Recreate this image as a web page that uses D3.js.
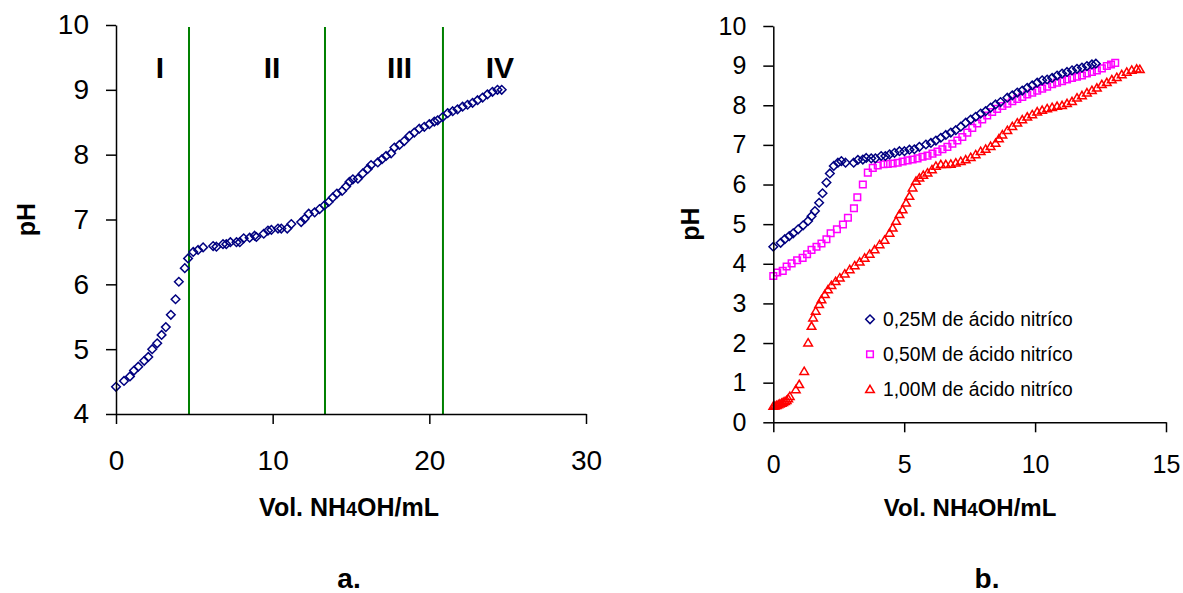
<!DOCTYPE html>
<meta charset="utf-8">
<style>
  body { margin: 0; background: #fff; }
  svg { font-family: "Liberation Sans", Arial, sans-serif; display: block; }
</style>
<svg width="1183" height="593"></svg>
<script src="https://d3js.org/d3.v7.min.js"></script>
<script>

// panel a: single titration
var volA = [0, 0.51, 0.89, 1.15, 1.42, 1.8, 2.06, 2.31, 2.63, 2.91, 3.18, 3.5, 3.8, 4.01, 4.39, 4.6, 4.93, 5.24, 5.56, 6.2,
  6.41, 6.83, 7.04, 7.3, 7.69, 7.9, 8.15, 8.53, 8.85, 8.96, 9.43, 9.7, 9.92, 10.34, 10.55, 10.93, 11.19, 11.82, 12.04, 12.3,
  12.68, 12.99, 13.31, 13.57, 13.84, 14.1, 14.43, 14.69, 14.9, 15.12, 15.44, 15.75, 16.07, 16.28, 16.71, 16.98, 17.24, 17.56,
  17.77, 18.09, 18.4, 18.73, 19.04, 19.36, 19.68, 20.0, 20.32, 20.53, 20.85, 21.17, 21.49, 21.8, 22.12, 22.44, 22.76, 23.08,
  23.4, 23.71, 24.03, 24.35, 24.62];
var phA = [4.42, 4.51, 4.58, 4.67, 4.73, 4.82, 4.88, 5.0, 5.09, 5.22, 5.34, 5.53, 5.77, 6.04, 6.25, 6.40, 6.50, 6.53, 6.57, 6.59,
  6.58, 6.62, 6.62, 6.65, 6.65, 6.65, 6.71, 6.72, 6.75, 6.73, 6.78, 6.83, 6.84, 6.86, 6.86, 6.86, 6.93, 6.96, 7.01, 7.09,
  7.11, 7.16, 7.22, 7.27, 7.34, 7.40, 7.44, 7.51, 7.58, 7.62, 7.63, 7.71, 7.78, 7.84, 7.88, 7.93, 7.98, 8.02,
  8.11, 8.15, 8.21, 8.29, 8.34, 8.40, 8.43, 8.47, 8.51, 8.53, 8.58, 8.64, 8.67, 8.70, 8.74, 8.77, 8.80, 8.84,
  8.88, 8.93, 8.97, 9.0, 9.0];
var regionBounds = [4.66, 13.34, 20.87];
var regionLabels = ["I", "II", "III", "IV"];
var regionLabelX = [2.8, 9.96, 18.1, 24.5];
var regionLabelPh = 9.34;
var xTicksA = [0, 10, 20, 30];
var yTicksA = [4, 5, 6, 7, 8, 9, 10];

// panel b: three acid concentrations
var vol025 = [0, 0.28, 0.44, 0.61, 0.76, 0.95, 1.14, 1.33, 1.46, 1.59, 1.75, 1.88, 2.03, 2.16, 2.31, 2.47, 2.6, 2.76, 3.07,
  3.23, 3.42, 3.55, 3.74, 3.9, 4.12, 4.28, 4.44, 4.63, 4.82, 5.01, 5.2, 5.39, 5.58, 5.83, 6.02, 6.21, 6.4, 6.59, 6.78, 6.97,
  7.16, 7.35, 7.54, 7.73, 7.92, 8.11, 8.3, 8.49, 8.68, 8.94, 9.13, 9.32, 9.51, 9.70, 9.89, 10.08, 10.27, 10.46, 10.65, 10.84,
  11.03, 11.22, 11.41, 11.6, 11.79, 11.98, 12.17, 12.32];
var ph025 = [4.43, 4.53, 4.62, 4.70, 4.77, 4.87, 4.97, 5.08, 5.20, 5.33, 5.54, 5.78, 6.05, 6.28, 6.47, 6.55, 6.59, 6.55, 6.55,
  6.62, 6.63, 6.67, 6.66, 6.66, 6.72, 6.72, 6.76, 6.80, 6.84, 6.84, 6.88, 6.89, 6.95, 7.01, 7.05, 7.11, 7.18, 7.25, 7.31, 7.37,
  7.46, 7.56, 7.64, 7.71, 7.79, 7.85, 7.94, 8.02, 8.08, 8.19, 8.25, 8.32, 8.37, 8.44, 8.50, 8.57, 8.63, 8.65, 8.69, 8.75,
  8.80, 8.84, 8.88, 8.92, 8.95, 8.99, 9.03, 9.05];
var vol050 = [0, 0.15, 0.36, 0.51, 0.7, 0.91, 1.12, 1.29, 1.46, 1.65, 1.84, 2.03, 2.19, 2.43, 2.66, 2.85, 3.08, 3.21, 3.42,
  3.61, 3.8, 3.99, 4.21, 4.37, 4.56, 4.75, 4.94, 5.13, 5.32, 5.51, 5.7, 5.89, 6.08, 6.27, 6.46, 6.65, 6.84, 7.03, 7.22, 7.41,
  7.6, 7.79, 7.98, 8.17, 8.36, 8.55, 8.75, 8.94, 9.13, 9.32, 9.51, 9.7, 9.89, 10.08, 10.27, 10.46, 10.65, 10.84, 11.03, 11.22,
  11.41, 11.6, 11.79, 11.98, 12.17, 12.36, 12.55, 12.74, 12.9, 13.06];
var ph050 = [3.69, 3.78, 3.82, 3.93, 4.01, 4.09, 4.15, 4.24, 4.35, 4.43, 4.51, 4.62, 4.77, 4.87, 4.99, 5.16, 5.40, 5.68, 6.00,
  6.30, 6.42, 6.48, 6.51, 6.52, 6.53, 6.55, 6.58, 6.61, 6.63, 6.66, 6.70, 6.73, 6.78, 6.83, 6.89, 6.95, 7.03, 7.11, 7.20, 7.31,
  7.43, 7.54, 7.64, 7.74, 7.83, 7.91, 7.98, 8.04, 8.10, 8.16, 8.21, 8.27, 8.32, 8.37, 8.42, 8.47, 8.53, 8.57, 8.61, 8.65,
  8.69, 8.72, 8.75, 8.80, 8.84, 8.88, 8.93, 8.99, 9.03, 9.07];
var vol100 = [0, 0.06, 0.13, 0.19, 0.25, 0.32, 0.38, 0.45, 0.51, 0.57, 0.63, 0.86, 0.99, 1.18, 1.33, 1.46, 1.52, 1.62, 1.75,
  1.84, 1.97, 2.09, 2.22, 2.38, 2.54, 2.73, 2.92, 3.11, 3.3, 3.49, 3.68, 3.87, 4.06, 4.25, 4.44, 4.56, 4.69, 4.82, 4.94, 5.07,
  5.2, 5.32, 5.45, 5.58, 5.73, 5.89, 6.06, 6.21, 6.4, 6.59, 6.78, 6.97, 7.16, 7.35, 7.54, 7.73, 7.92, 8.11, 8.3, 8.49, 8.62,
  8.75, 8.94, 9.13, 9.32, 9.51, 9.7, 9.89, 10.08, 10.27, 10.46, 10.65, 10.84, 11.03, 11.22, 11.41, 11.6, 11.79, 11.98, 12.17,
  12.36, 12.55, 12.74, 12.93, 13.12, 13.31, 13.5, 13.69, 13.88, 14.0];
var ph100 = [0.41, 0.42, 0.43, 0.45, 0.47, 0.49, 0.51, 0.53, 0.56, 0.6, 0.66, 0.83, 0.96, 1.29, 2.01, 2.43, 2.64, 2.81, 2.98,
  3.10, 3.23, 3.35, 3.46, 3.56, 3.65, 3.75, 3.86, 3.96, 4.05, 4.15, 4.25, 4.36, 4.49, 4.60, 4.78, 4.91, 5.08, 5.25, 5.37, 5.54,
  5.71, 5.92, 6.09, 6.17, 6.24, 6.30, 6.38, 6.47, 6.51, 6.51, 6.52, 6.55, 6.59, 6.63, 6.69, 6.76, 6.84, 6.90, 6.97, 7.05, 7.16,
  7.26, 7.37, 7.47, 7.56, 7.64, 7.71, 7.77, 7.84, 7.88, 7.92, 7.95, 7.98, 8.00, 8.05, 8.10, 8.19, 8.25, 8.32, 8.38,
  8.44, 8.53, 8.58, 8.65, 8.71, 8.78, 8.84, 8.89, 8.92, 8.91];
var seriesNames = ["0,25M de ácido nitríco", "0,50M de ácido nitríco", "1,00M de ácido nitríco"];
var xTicksB = [0, 5, 10, 15];
var yTicksB = [0, 1, 2, 3, 4, 5, 6, 7, 8, 9, 10];

var svg = d3.select("svg");

var diamond = "M0,-4.3L4.3,0L0,4.3L-4.3,0Z",
    square = "M-3.3,-3.3H3.3V3.3H-3.3Z",
    triangle = "M0,-4L4.3,3.3H-4.3Z";

function axes(g, x, y, xTicks, yTicks, xPad, xFont, yFont) {
  var xa = g.append("g")
      .attr("transform", "translate(0," + y.range()[0] + ")")
      .call(d3.axisBottom(x).tickValues(xTicks).tickFormat(d3.format("d"))
        .tickSize(10).tickSizeOuter(0).tickPadding(xPad));
  xa.selectAll("text").attr("font-size", xFont);
  var ya = g.append("g")
      .attr("transform", "translate(" + x.range()[0] + ",0)")
      .call(d3.axisLeft(y).tickValues(yTicks).tickFormat(d3.format("d"))
        .tickSize(10).tickSizeOuter(0).tickPadding(17));
  ya.selectAll("text").attr("font-size", yFont);
  g.selectAll(".domain, .tick line").attr("stroke", "#000").attr("stroke-width", 1.5);
  g.selectAll(".tick text").attr("fill", "#000").attr("font-family", "Liberation Sans, Arial, sans-serif");
}

function titles(cx, cy, pHx, size, caption, capX) {
  var t = svg.append("text")
      .attr("x", cx).attr("y", 516)
      .attr("text-anchor", "middle")
      .attr("font-weight", "bold")
      .attr("font-size", size);
  t.append("tspan").text("Vol. NH");
  t.append("tspan").attr("font-size", size * 0.78).text("4");
  t.append("tspan").text("OH/mL");

  svg.append("text")
      .attr("transform", "translate(" + pHx + "," + cy + ") rotate(-90)")
      .attr("text-anchor", "middle")
      .attr("dy", "0.35em")
      .attr("font-weight", "bold")
      .attr("font-size", 25)
      .text("pH");

  svg.append("text")
      .attr("x", capX).attr("y", 588)
      .attr("text-anchor", "middle")
      .attr("font-weight", "bold")
      .attr("font-size", 28)
      .text(caption);
}

// ---- a.
var xA = d3.scaleLinear().domain([0, 30]).range([116, 586]),
    yA = d3.scaleLinear().domain([4, 10]).range([414, 25]);
var gA = svg.append("g");

gA.append("g")
    .attr("stroke", "#008000")
    .attr("stroke-width", 2)
  .selectAll("line")
  .data(regionBounds)
  .enter().append("line")
    .attr("x1", function(d) { return xA(d); })
    .attr("x2", function(d) { return xA(d); })
    .attr("y1", yA(10) + 2)
    .attr("y2", yA(4));

gA.append("g")
    .attr("font-weight", "bold")
    .attr("font-size", 30)
    .attr("text-anchor", "middle")
  .selectAll("text")
  .data(regionLabels)
  .enter().append("text")
    .attr("x", function(d, i) { return xA(regionLabelX[i]); })
    .attr("y", yA(regionLabelPh))
    .attr("dy", "0.35em")
    .text(function(d) { return d; });

gA.append("g")
    .attr("fill", "none")
    .attr("stroke", "#000080")
    .attr("stroke-width", 1.5)
  .selectAll("path")
  .data(volA)
  .enter().append("path")
    .attr("d", diamond)
    .attr("transform", function(d, i) { return "translate(" + xA(d) + "," + yA(phA[i]) + ")"; });

axes(gA, xA, yA, xTicksA, yTicksA, 26, 28, 28);
titles(349, 219.5, 26, 25, "a.", 349);

// ---- b.
var xB = d3.scaleLinear().domain([0, 15]).range([773.3, 1166]),
    yB = d3.scaleLinear().domain([0, 10]).range([422.3, 26]);
var gB = svg.append("g");

var seriesB = [
  {vol: vol100, ph: ph100, color: "#ff0000", shape: triangle},
  {vol: vol050, ph: ph050, color: "#ff00ff", shape: square},
  {vol: vol025, ph: ph025, color: "#000080", shape: diamond}
];

seriesB.forEach(function(s) {
  gB.append("g")
      .attr("fill", "none")
      .attr("stroke", s.color)
      .attr("stroke-width", 1.5)
    .selectAll("path")
    .data(s.vol)
    .enter().append("path")
      .attr("d", s.shape)
      .attr("transform", function(d, i) { return "translate(" + xB(d) + "," + yB(s.ph[i]) + ")"; });
});

var legend = gB.append("g")
  .selectAll("g")
  .data(seriesNames)
  .enter().append("g")
    .attr("transform", function(d, i) { return "translate(870," + (319.3 + i * 35) + ")"; });

legend.append("path")
    .attr("d", function(d, i) { return seriesB[2 - i].shape; })
    .attr("fill", "none")
    .attr("stroke", function(d, i) { return seriesB[2 - i].color; })
    .attr("stroke-width", 1.5);

legend.append("text")
    .attr("x", 13)
    .attr("dy", "0.35em")
    .attr("font-size", 19.3)
    .text(function(d) { return d; });

axes(gB, xB, yB, xTicksB, yTicksB, 22.7, 25, 25);
titles(970, 224, 690, 24, "b.", 987);

</script>
